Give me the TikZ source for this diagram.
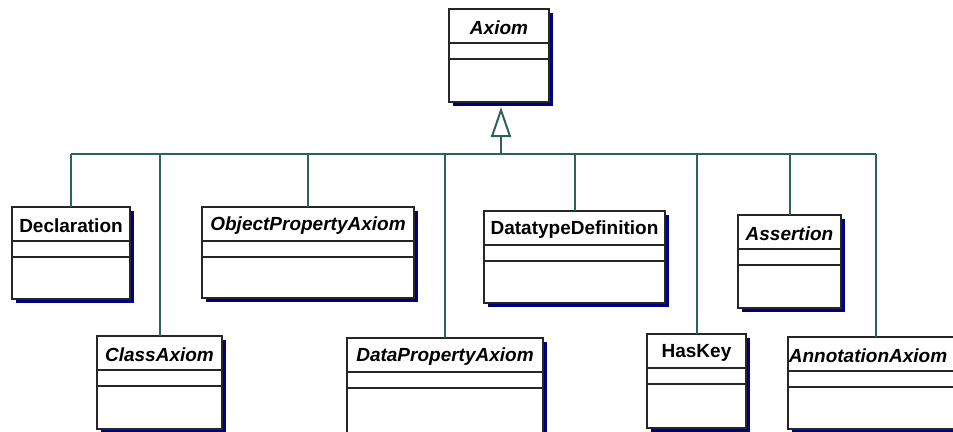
\documentclass[tikz,border=0pt]{standalone}
\usepackage{fontspec}
\setmainfont{Liberation Sans}
\usetikzlibrary{arrows.meta,shadows}
\definecolor{linkteal}{RGB}{47,96,96}
\definecolor{shadownavy}{RGB}{0,0,128}
\tikzset{
  cls/.style={draw=black!85, line width=1.6pt, fill=white, inner sep=0pt, outer sep=0pt,
    general shadow={fill=shadownavy, shadow xshift=4pt, shadow yshift=-4pt}},
  rule/.style={draw=black!85, line width=1.6pt},
  clsname/.style={font=\fontsize{19}{22}\selectfont\bfseries, inner sep=0pt},
  abstract/.style={font=\fontsize{19}{22}\selectfont\bfseries\itshape, inner sep=0pt},
  link/.style={draw=linkteal, line width=2pt},
}
% [title style]{name}{left}{top}{right}{bottom}{title}
\newcommand{\umlclass}[7][clsname]{%
  \node[cls, anchor=north west, minimum width={(#5-#3)*1pt}, minimum height={(#6-#4)*1pt}] (#2) at (#3,#4) {};
  \draw[rule] ([yshift=-34pt]#2.north west) -- ([yshift=-34pt]#2.north east);
  \draw[rule] ([yshift=-50pt]#2.north west) -- ([yshift=-50pt]#2.north east);
  \node[#1, yshift=-2pt] (#2-name) at ([yshift=-17pt]#2.north) {#7};
}
\begin{document}
\begin{tikzpicture}[x=1pt, y=-1pt]
\useasboundingbox (0,0) rectangle (953,431);

\umlclass[abstract]{axiom}{449}{9}{549}{102}{Axiom}

\umlclass{decl}{12}{207}{130}{299}{Declaration}
\umlclass[abstract]{objprop}{202}{207}{414}{298}{ObjectPropertyAxiom}
\umlclass{dtdef}{484}{211}{665}{303}{DatatypeDefinition}
\umlclass[abstract]{assert}{738}{215}{841}{308}{Assertion}

\umlclass[abstract]{clsax}{97}{336}{222}{429}{ClassAxiom}
\umlclass[abstract]{dataprop}{347}{338}{543}{445}{DataPropertyAxiom}
\umlclass{haskey}{647}{334}{746}{428}{HasKey}
\umlclass[abstract, xshift=-8pt]{annot}{788}{337}{964}{429}{AnnotationAxiom}

% generalisation
\coordinate (bus) at (501,154);
\draw[link, -{Triangle[open, length=30pt, width=20pt]}, shorten >=5pt] (bus) -- (bus |- axiom.south);
\draw[link] (decl.north |- bus) -- (annot.north |- bus);
\foreach \c in {decl,objprop,dtdef,assert,clsax,dataprop,haskey,annot}
{
    \draw[link](\c.north)--(\c.north |- bus);
}

\end{tikzpicture}
\end{document}
